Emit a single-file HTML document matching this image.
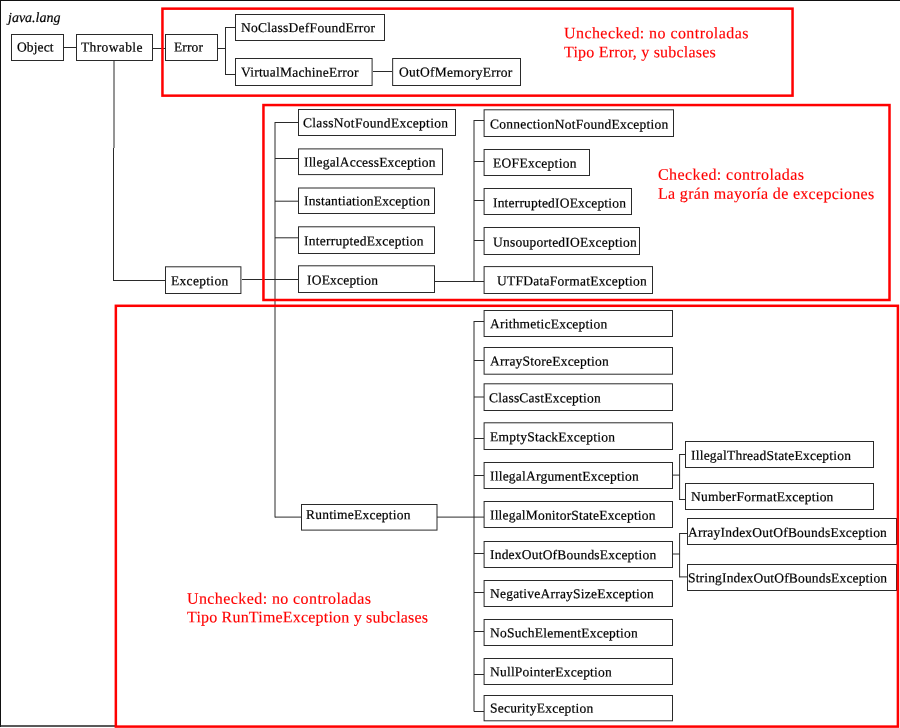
<!DOCTYPE html>
<html lang="es">
<head>
<meta charset="utf-8">
<title>java.lang Throwable hierarchy</title>
<style>
html,body{margin:0;padding:0;background:#fff;}
body{width:900px;height:728px;position:relative;overflow:hidden;font-family:"Liberation Serif",serif;}
#d{position:absolute;left:0;top:0;width:900px;height:728px;overflow:hidden;will-change:transform;}
.b{position:absolute;box-sizing:border-box;border:1px solid #2a2a2a;background:#fff;}
.t{position:absolute;white-space:nowrap;font-size:13.5px;line-height:16px;height:16px;color:#000;-webkit-text-stroke:0.2px #000;text-rendering:geometricPrecision;transform-origin:0 0;}
.r{position:absolute;white-space:nowrap;font-size:16px;line-height:18px;height:18px;color:#f00;-webkit-text-stroke:0.15px #f00;text-rendering:geometricPrecision;transform-origin:0 0;}
svg{position:absolute;left:0;top:0;}
</style>
</head>
<body>
<div id="d">
<svg width="900" height="728" viewBox="0 0 900 728">
<g stroke="#2a2a2a" stroke-width="1" fill="none">
<line x1="0" y1="0.5" x2="900" y2="0.5" stroke="#111"/>
<line x1="0.5" y1="0" x2="0.5" y2="727" stroke="#111"/>
<line x1="0" y1="726" x2="116" y2="726" stroke="#222" stroke-width="1.4"/>
<line x1="64" y1="47.5" x2="76" y2="47.5"/>
<line x1="153" y1="48.5" x2="165" y2="48.5"/>
<line x1="218" y1="48.5" x2="226" y2="48.5"/>
<line x1="225.5" y1="27" x2="225.5" y2="75"/>
<line x1="225" y1="27.5" x2="235" y2="27.5"/>
<line x1="225" y1="74.5" x2="235" y2="74.5"/>
<line x1="373" y1="71.5" x2="392" y2="71.5"/>
<line x1="114" y1="61" x2="114" y2="148"/>
<line x1="113.5" y1="148" x2="113.5" y2="280.5"/>
<line x1="113" y1="280.5" x2="165" y2="280.5"/>
<line x1="242" y1="279.5" x2="298" y2="279.5"/>
<line x1="275" y1="122" x2="275" y2="517.5"/>
<line x1="275" y1="122.5" x2="298" y2="122.5"/>
<line x1="275" y1="158.5" x2="298" y2="158.5"/>
<line x1="275" y1="201.2" x2="298" y2="201.2"/>
<line x1="275" y1="237.8" x2="298" y2="237.8"/>
<line x1="275" y1="517.1" x2="301" y2="517.1"/>
<line x1="435" y1="281.5" x2="484" y2="281.5"/>
<line x1="474.0" y1="120" x2="474.0" y2="282"/>
<line x1="474" y1="120.5" x2="484" y2="120.5"/>
<line x1="474" y1="161.5" x2="484" y2="161.5"/>
<line x1="474" y1="200.5" x2="484" y2="200.5"/>
<line x1="474" y1="240.5" x2="484" y2="240.5"/>
<line x1="437" y1="517.1" x2="484" y2="517.1"/>
<line x1="474.0" y1="321" x2="474.0" y2="711.5"/>
<line x1="474" y1="321.5" x2="484" y2="321.5"/>
<line x1="474" y1="360.5" x2="484" y2="360.5"/>
<line x1="474" y1="397.0" x2="484" y2="397.0"/>
<line x1="474" y1="438.5" x2="484" y2="438.5"/>
<line x1="474" y1="475.5" x2="484" y2="475.5"/>
<line x1="474" y1="553.5" x2="484" y2="553.5"/>
<line x1="474" y1="592.5" x2="484" y2="592.5"/>
<line x1="474" y1="631.5" x2="484" y2="631.5"/>
<line x1="474" y1="674.5" x2="484" y2="674.5"/>
<line x1="474" y1="711.5" x2="484" y2="711.5"/>
<line x1="673" y1="475.1" x2="680" y2="475.1"/>
<line x1="679.6" y1="454" x2="679.6" y2="500"/>
<line x1="679.6" y1="454.5" x2="685" y2="454.5"/>
<line x1="679.6" y1="499.5" x2="685" y2="499.5"/>
<line x1="673" y1="554.0" x2="680" y2="554.0"/>
<line x1="679.6" y1="533" x2="679.6" y2="577.4"/>
<line x1="679.6" y1="533.5" x2="687" y2="533.5"/>
<line x1="679.6" y1="576.9" x2="687" y2="576.9"/>
</g>
<g stroke="#2a2a2a" stroke-width="1" fill="#fff">
<rect x="11.5" y="34.5" width="52.00" height="26.00"/>
<rect x="76.5" y="34.5" width="76.00" height="26.00"/>
<rect x="165.5" y="34.5" width="52.00" height="26.00"/>
<rect x="235.5" y="14.5" width="149.00" height="26.00"/>
<rect x="235.5" y="58.5" width="136.60" height="27.00"/>
<rect x="392.65" y="58.5" width="127.85" height="27.00"/>
<rect x="298.5" y="109.5" width="157.00" height="26.00"/>
<rect x="298.5" y="148.9" width="144.00" height="25.70"/>
<rect x="298.5" y="188.0" width="136.00" height="25.50"/>
<rect x="298.5" y="226.8" width="136.00" height="26.70"/>
<rect x="298.5" y="265.8" width="136.00" height="26.70"/>
<rect x="165.5" y="266.8" width="75.40" height="26.70"/>
<rect x="484.1" y="109.8" width="189.40" height="26.70"/>
<rect x="484.1" y="149.5" width="105.40" height="26.00"/>
<rect x="484.1" y="188.5" width="147.40" height="26.00"/>
<rect x="484.1" y="227.5" width="155.40" height="27.00"/>
<rect x="484.1" y="266.6" width="168.40" height="26.90"/>
<rect x="484.1" y="310.5" width="188.40" height="26.00"/>
<rect x="484.1" y="347.5" width="188.40" height="26.70"/>
<rect x="484.1" y="383.8" width="188.40" height="26.70"/>
<rect x="484.1" y="422.8" width="188.40" height="26.70"/>
<rect x="484.1" y="462.5" width="188.40" height="26.00"/>
<rect x="484.1" y="501.5" width="188.40" height="26.00"/>
<rect x="484.1" y="541.5" width="188.40" height="26.00"/>
<rect x="484.1" y="580.5" width="188.40" height="26.00"/>
<rect x="484.1" y="619.5" width="188.40" height="26.00"/>
<rect x="484.1" y="658.5" width="188.40" height="26.00"/>
<rect x="484.1" y="695.5" width="188.40" height="25.30"/>
<rect x="301.5" y="504.5" width="135.50" height="25.60"/>
<rect x="685.5" y="441.5" width="188.00" height="26.00"/>
<rect x="685.5" y="483.5" width="188.00" height="26.00"/>
<rect x="687.5" y="518.5" width="209.00" height="26.00"/>
<rect x="687.5" y="564.5" width="209.00" height="26.00"/>
</g>
</svg>
<div class="t" style="left:16.70px;top:39px;letter-spacing:0.100px;transform:rotate(0.03deg) translateY(0.60px)">Object</div>
<div class="t" style="left:81.30px;top:39px;letter-spacing:0.375px;transform:rotate(0.03deg) translateY(0.60px)">Throwable</div>
<div class="t" style="left:174.20px;top:39px;letter-spacing:0.112px;transform:rotate(0.03deg) translateY(0.60px)">Error</div>
<div class="t" style="left:240.70px;top:20px;letter-spacing:0.263px;transform:rotate(0.03deg) translateY(0.10px)">NoClassDefFoundError</div>
<div class="t" style="left:240.70px;top:64px;letter-spacing:0.236px;transform:rotate(0.03deg) translateY(0.60px)">VirtualMachineError</div>
<div class="t" style="left:399.10px;top:64px;letter-spacing:0.247px;transform:rotate(0.03deg) translateY(0.60px)">OutOfMemoryError</div>
<div class="t" style="left:303.20px;top:115px;letter-spacing:0.298px;transform:rotate(0.03deg) translateY(0.35px)">ClassNotFoundException</div>
<div class="t" style="left:304.30px;top:154px;letter-spacing:0.190px;transform:rotate(0.03deg) translateY(0.60px)">IllegalAccessException</div>
<div class="t" style="left:304.30px;top:193px;letter-spacing:0.176px;transform:rotate(0.03deg) translateY(0.35px)">InstantiationException</div>
<div class="t" style="left:304.30px;top:233px;letter-spacing:0.247px;transform:rotate(0.03deg) translateY(0.35px)">InterruptedException</div>
<div class="t" style="left:306.70px;top:272px;letter-spacing:0.200px;transform:rotate(0.03deg) translateY(0.60px)">IOException</div>
<div class="t" style="left:170.70px;top:273px;letter-spacing:0.312px;transform:rotate(0.03deg) translateY(0.35px)">Exception</div>
<div class="t" style="left:489.70px;top:116px;letter-spacing:0.250px;transform:rotate(0.03deg) translateY(0.60px)">ConnectionNotFoundException</div>
<div class="t" style="left:492.70px;top:155px;letter-spacing:0.295px;transform:rotate(0.03deg) translateY(0.60px)">EOFException</div>
<div class="t" style="left:492.70px;top:195px;letter-spacing:0.190px;transform:rotate(0.03deg) translateY(0.35px)">InterruptedIOException</div>
<div class="t" style="left:492.70px;top:234px;letter-spacing:0.238px;transform:rotate(0.03deg) translateY(0.60px)">UnsouportedIOException</div>
<div class="t" style="left:496.50px;top:273px;letter-spacing:0.243px;transform:rotate(0.03deg) translateY(0.35px)">UTFDataFormatException</div>
<div class="t" style="left:489.70px;top:316px;letter-spacing:0.222px;transform:rotate(0.03deg) translateY(0.35px)">ArithmeticException</div>
<div class="t" style="left:489.70px;top:353px;letter-spacing:0.222px;transform:rotate(0.03deg) translateY(0.60px)">ArrayStoreException</div>
<div class="t" style="left:488.70px;top:390px;letter-spacing:0.221px;transform:rotate(0.03deg) translateY(0.35px)">ClassCastException</div>
<div class="t" style="left:489.70px;top:429px;letter-spacing:0.236px;transform:rotate(0.03deg) translateY(0.35px)">EmptyStackException</div>
<div class="t" style="left:489.70px;top:468px;letter-spacing:0.217px;transform:rotate(0.03deg) translateY(0.60px)">IllegalArgumentException</div>
<div class="t" style="left:489.70px;top:507px;letter-spacing:0.185px;transform:rotate(0.03deg) translateY(0.60px)">IllegalMonitorStateException</div>
<div class="t" style="left:489.70px;top:547px;letter-spacing:0.208px;transform:rotate(0.03deg) translateY(0.10px)">IndexOutOfBoundsException</div>
<div class="t" style="left:489.70px;top:586px;letter-spacing:0.220px;transform:rotate(0.03deg) translateY(0.10px)">NegativeArraySizeException</div>
<div class="t" style="left:489.70px;top:625px;letter-spacing:0.214px;transform:rotate(0.03deg) translateY(0.35px)">NoSuchElementException</div>
<div class="t" style="left:489.70px;top:664px;letter-spacing:0.211px;transform:rotate(0.03deg) translateY(0.35px)">NullPointerException</div>
<div class="t" style="left:489.70px;top:700px;letter-spacing:0.219px;transform:rotate(0.03deg) translateY(0.60px)">SecurityException</div>
<div class="t" style="left:306.20px;top:507px;letter-spacing:0.217px;transform:rotate(0.03deg) translateY(0.10px)">RuntimeException</div>
<div class="t" style="left:691.10px;top:447px;letter-spacing:0.212px;transform:rotate(0.03deg) translateY(0.85px)">IllegalThreadStateException</div>
<div class="t" style="left:690.90px;top:489px;letter-spacing:0.220px;transform:rotate(0.03deg) translateY(0.10px)">NumberFormatException</div>
<div class="t" style="left:688.20px;top:524px;letter-spacing:0.212px;transform:rotate(0.03deg) translateY(0.85px)">ArrayIndexOutOfBoundsException</div>
<div class="t" style="left:688.30px;top:570px;letter-spacing:0.163px;transform:rotate(0.03deg) translateY(0.35px)">StringIndexOutOfBoundsException</div>
<div class="t" style="left:7.6px;top:10px;font-size:14px;font-style:italic;transform:rotate(0.03deg) translateY(0.9px)">java.lang</div>
<div class="r" style="left:564px;top:25px;letter-spacing:0.429px;transform:rotate(0.03deg) translateY(0.20px)">Unchecked: no controladas</div>
<div class="r" style="left:564px;top:44px;letter-spacing:0.207px;transform:rotate(0.03deg) translateY(0.20px)">Tipo Error, y subclases</div>
<div class="r" style="left:657.5px;top:166px;letter-spacing:0.411px;transform:rotate(0.03deg) translateY(0.80px)">Checked: controladas</div>
<div class="r" style="left:657.5px;top:185px;letter-spacing:0.319px;transform:rotate(0.03deg) translateY(0.80px)">La grán mayoría de excepciones</div>
<div class="r" style="left:187px;top:590px;letter-spacing:0.408px;transform:rotate(0.03deg) translateY(0.70px)">Unchecked: no controladas</div>
<div class="r" style="left:187px;top:609px;letter-spacing:0.194px;transform:rotate(0.03deg) translateY(0.30px)">Tipo RunTimeException y subclases</div>
<svg width="900" height="728" viewBox="0 0 900 728">
<g stroke="#f00" stroke-width="2.5" fill="none">
<rect x="162.45" y="8.65" width="630.10" height="87.00"/>
<rect x="263.45" y="105.05" width="626.05" height="194.95"/>
<rect x="115.85" y="305.8" width="782.05" height="420.80"/>
</g>
</svg>
</div>
</body>
</html>
